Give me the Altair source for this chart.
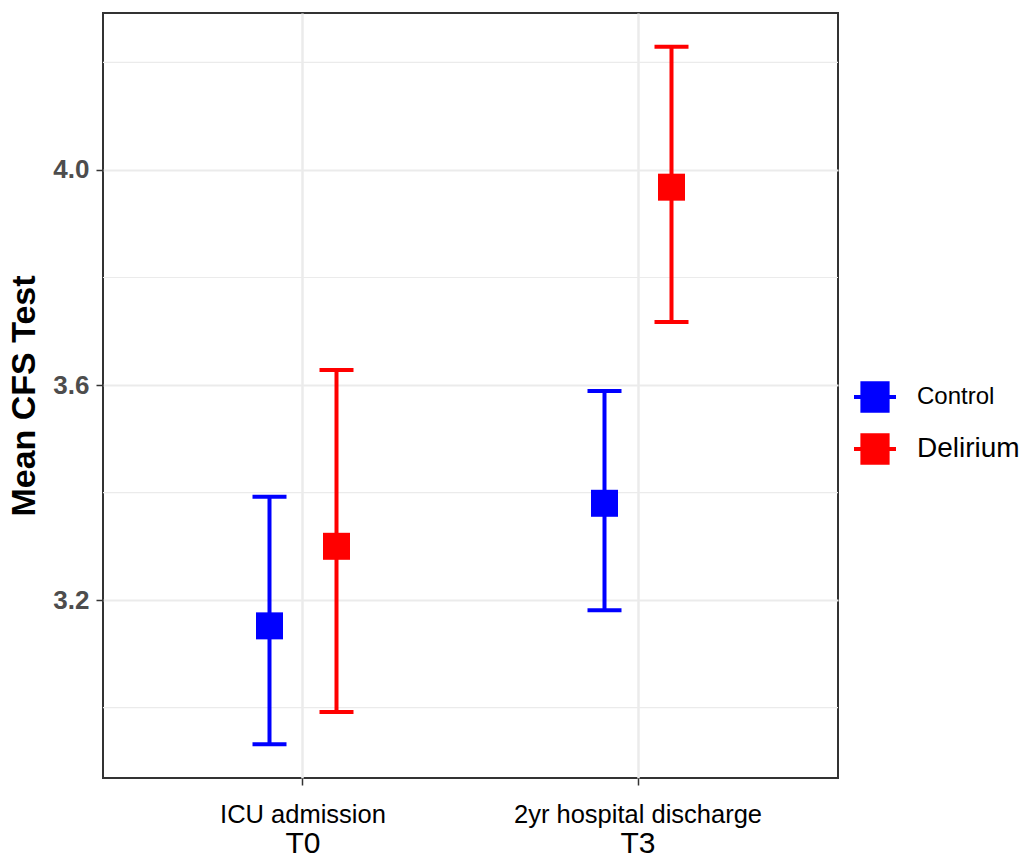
import altair as alt
import pandas as pd

# ---- data ----
times = ["T0", "T0", "T3", "T3"]
groups = ["Control", "Delirium", "Control", "Delirium"]
means = [3.152, 3.300, 3.380, 3.968]
lower = [2.932, 2.992, 3.181, 3.717]
upper = [3.392, 3.628, 3.589, 4.229]

time_codes = ["T0", "T3"]
time_names = ["ICU admission", "2yr hospital discharge"]
group_names = ["Control", "Delirium"]
group_colors = ["#0000ff", "#ff0000"]

major_ticks = [3.2, 3.6, 4.0]
minor_ticks = [3.0, 3.4, 3.8, 4.2]
y_domain = [2.869, 4.292]

df = pd.DataFrame({"time": times, "group": groups, "mean": means,
                   "lo": lower, "hi": upper})
minor_df = pd.DataFrame({"g": minor_ticks})

name_expr = " : ".join(
    f"datum.value == '{c}' ? '{n}'" for c, n in zip(time_codes, time_names)
) + " : datum.value"

W, H = 735, 765
STEP = W / 2.194          # width of one category band
DODGE = STEP / 5          # distance between the two dodged groups

yscale = alt.Scale(domain=y_domain, nice=False, zero=False)
yaxis = alt.Axis(values=major_ticks, format=".1f", labelFontSize=26,
                 labelFontWeight="bold", labelColor="#4d4d4d",
                 labelPadding=7, tickSize=7, tickWidth=1.5,
                 tickColor="#333333", domain=False, grid=True,
                 gridColor="#ebebeb", gridWidth=2.2,
                 title="Mean CFS Test", titleFontSize=34,
                 titleFontWeight="bold", titleColor="black", titlePadding=11)

xscale = alt.Scale(domain=time_codes, paddingInner=0, paddingOuter=0.097)
xoffscale = alt.Scale(domain=group_names, paddingInner=0, paddingOuter=0,
                      range=[STEP / 2 - DODGE, STEP / 2 + DODGE])
cscale = alt.Scale(domain=group_names, range=group_colors)

axis1 = alt.Axis(labelExpr=name_expr, labelFontSize=25.5, labelColor="black",
                 labelPadding=17, labelAngle=0, labelLimit=0, tickSize=7,
                 tickWidth=1.5, tickColor="#333333", domain=False, grid=True,
                 gridColor="#ebebeb", gridWidth=2.5, title=None,
                 orient="bottom")
axis2 = alt.Axis(labelFontSize=30, labelColor="black", labelPadding=43,
                 labelAngle=0, labelLimit=0, tickSize=7, tickOpacity=0,
                 domain=False, grid=False, title=None, orient="bottom")

legend = alt.Legend(
    title=None, orient="none", legendX=749, legendY=361,
    symbolType="M-1,0H1M-0.6,-0.65H0.6V0.65H-0.6Z",
    symbolSize=1764, symbolStrokeWidth=4,
    symbolStrokeColor={"expr": "scale('color', datum.value)"},
    symbolFillColor={"expr": "scale('color', datum.value)"},
    symbolOpacity=1,
    labelFontSize={"expr": "datum.label == 'Delirium' ? 28 : 24"},
    labelColor="black", labelOffset=19, rowPadding=7, padding=0,
    labelLimit=0,
)

minor = alt.Chart(minor_df).mark_rule(color="#ebebeb", strokeWidth=1.2).encode(
    y=alt.Y("g:Q", scale=yscale, axis=yaxis)
)


def base(axis):
    return alt.Chart(df).encode(
        x=alt.X("time:N", scale=xscale, axis=axis, sort=time_codes),
        xOffset=alt.XOffset("group:N", scale=xoffscale, sort=group_names),
        color=alt.Color("group:N", scale=cscale, legend=legend),
    )


rule = base(axis1).mark_rule(strokeWidth=4, opacity=1).encode(
    y=alt.Y("lo:Q", scale=yscale, axis=yaxis), y2="hi:Q"
)
cap_lo = base(None).mark_tick(size=34, thickness=4, opacity=1).encode(
    y=alt.Y("lo:Q", scale=yscale, axis=yaxis)
)
cap_hi = base(None).mark_tick(size=34, thickness=4, opacity=1).encode(
    y=alt.Y("hi:Q", scale=yscale, axis=yaxis)
)
pts = base(axis2).mark_square(size=729, opacity=1).encode(
    y=alt.Y("mean:Q", scale=yscale, axis=yaxis)
)

chart = (
    alt.layer(minor, rule, cap_lo, cap_hi, pts)
    .resolve_axis(x="independent")
    .properties(width=W, height=H,
                autosize=alt.AutoSizeParams(type="none"),
                padding={"left": 95, "top": 5, "right": 184, "bottom": 84})
    .configure(font="Liberation Sans")
    .configure_view(stroke="#333333", strokeWidth=2)
)

chart.save("out.html", embed_options={"renderer": "svg", "actions": False})
